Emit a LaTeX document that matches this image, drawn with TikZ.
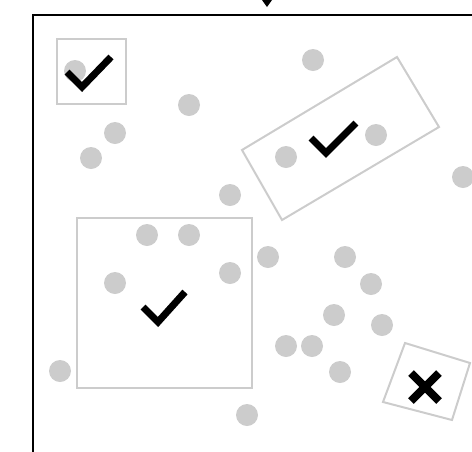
\documentclass[tikz,border=0pt]{standalone}
\begin{document}
\begin{tikzpicture}[x=1pt,y=-1pt,
  pt/.style={circle,fill=black!20,inner sep=0pt,minimum size=22pt},
  boxline/.style={draw=black!20,line width=2pt},
  tickmark/.style={line width=7pt,line cap=butt,line join=miter}]
\useasboundingbox (0,0) rectangle (472,451);
% frame
\draw[line width=2pt] (33,460) -- (33,15) -- (480,15);
\fill (262,0) -- (272,0) -- (267,7) -- cycle;
% points
\foreach \x/\y [count=\i] in {313/60,189/105,115/133,91/158,230/195,463/177,147/235,189/235,115/283,230/273,268/257,345/257,371/284,334/315,382/325,286/346,312/346,340/372,60/371,247/415,75/71,286/157,376/135}
  \node[pt] (p\i) at (\x,\y) {};
% boxes
\draw[boxline] (57,39) rectangle (126,104);
\draw[boxline] (397,57) -- (439,127) -- (282,220) -- (242,150) -- cycle;
\draw[boxline] (77,218) rectangle (252,388);
\draw[boxline] (405,343) -- (470,363) -- (452,420) -- (383,402) -- cycle;
% checks
\draw[tickmark] (67,72) -- (82,87) -- (111,57);
\draw[tickmark] (311,138) -- (326,153) -- (356,123);
\draw[tickmark] (143,307) -- (158,322) -- (185,292);
% cross
\draw[tickmark,line width=8pt] (411,373) -- (439,401);
\draw[tickmark,line width=8pt] (411,401) -- (439,373);
\end{tikzpicture}
\end{document}
